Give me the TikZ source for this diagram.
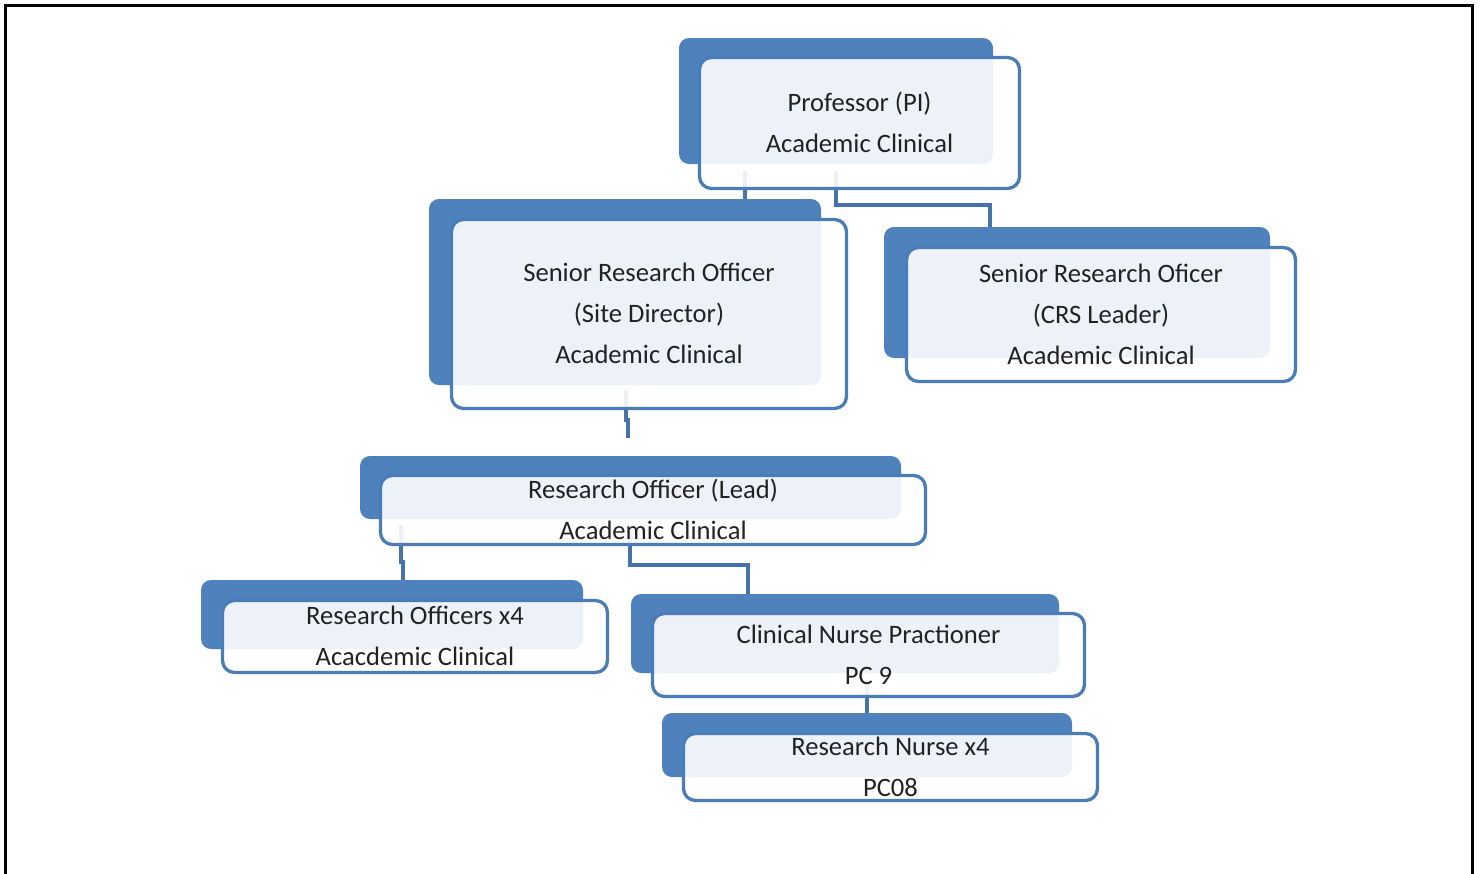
\documentclass[tikz,border=0pt]{standalone}
\usepackage{fontspec}
\setmainfont{Carlito}
\pgfdeclarelayer{bg}
\pgfdeclarelayer{conn}
\pgfdeclarelayer{back}
\pgfsetlayers{bg,conn,back,main}
\definecolor{boxblue}{HTML}{4F81BD}
\definecolor{edgeblue}{HTML}{4A7CB8}
\definecolor{linkblue}{HTML}{4673AC}
\definecolor{txtcol}{HTML}{222222}
\newcommand{\ls}{\rule[-3pt]{0pt}{23pt}}
\tikzset{
  frontbox/.style={draw=edgeblue, line width=3.3pt, rounded corners=12pt,
    fill=white, fill opacity=0.9, text opacity=1, text=txtcol,
    inner sep=0pt, align=center, font=\fontsize{26.6}{41}\selectfont},
  backbox/.style={fill=boxblue, rounded corners=10pt},
  link/.style={draw=linkblue, line width=3.8pt},
  frame/.style={draw=black, line width=2.5pt}
}
\begin{document}
\begin{tikzpicture}[x=1pt,y=-1pt]
\useasboundingbox (0,0) rectangle (1482,873);
\begin{pgfonlayer}{bg}
\fill[white] (0,0) rectangle (1482,873);
\draw[frame] (5.5,890) -- (5.5,5.5) -- (1472.5,5.5) -- (1472.5,890);
\end{pgfonlayer}

% front boxes
\node[frontbox, minimum width=320pt, minimum height=131pt] (prof) at (859.5,123)
  {\ls Professor (PI)\\\ls Academic Clinical};
\node[frontbox, minimum width=395pt, minimum height=189pt] (site) at (649,314)
  {\ls Senior Research Officer\\\ls (Site Director)\\\ls Academic Clinical};
\node[frontbox, minimum width=389pt, minimum height=134pt] (crs) at (1101,314.5)
  {\ls Senior Research Oficer\\\ls (CRS Leader)\\\ls Academic Clinical};
\node[frontbox, minimum width=545pt, minimum height=69pt] (lead) at (653,510)
  {\ls Research Officer (Lead)\\\ls Academic Clinical};
\node[frontbox, minimum width=385pt, minimum height=72pt] (rox) at (415,636.5)
  {\ls Research Officers x4\\\ls Acacdemic Clinical};
\node[frontbox, minimum width=432pt, minimum height=83pt] (cnp) at (868.5,655)
  {\ls Clinical Nurse Practioner\\\ls PC 9};
\node[frontbox, minimum width=414pt, minimum height=67pt] (rn) at (890.5,767)
  {\ls Research Nurse x4\\\ls PC08};

% back boxes
\begin{pgfonlayer}{back}
\fill[backbox] (679,38) rectangle (993,164);
\fill[backbox] (429,199) rectangle (821,385);
\fill[backbox] (884,227) rectangle (1270,358);
\fill[backbox] (360,456) rectangle (901,519);
\fill[backbox] (201,580) rectangle (583,649);
\fill[backbox] (631,594) rectangle (1059,673);
\fill[backbox] (662,713) rectangle (1072,777);
\end{pgfonlayer}

% connectors
\begin{pgfonlayer}{conn}
\draw[link] ([xshift=-114.5pt,yshift=19pt]prof.south) -- ([xshift=-114.5pt]prof.south |- site.north);
\draw[link] ([xshift=-23.5pt,yshift=19pt]prof.south) -- ++(0,34) -| ([xshift=-111pt]crs.north);
\draw[link] ([xshift=-23pt,yshift=20pt]site.south) -- ++(0,30) -- ++(2,0) -- ++(0,18);
\draw[link] ([xshift=-252pt,yshift=21pt]lead.south) -- ++(0,37) -- ++(2,0) -- ++(0,20);
\draw[link] ([xshift=-23pt,yshift=21pt]lead.south) -- ++(0,40) -| ([xshift=-120.5pt,yshift=-12pt]cnp.north);
\draw[link] ([xshift=-1.5pt,yshift=18pt]cnp.south) -- ([xshift=-1.5pt]cnp.south |- rn.north);
\end{pgfonlayer}
\end{tikzpicture}
\end{document}
